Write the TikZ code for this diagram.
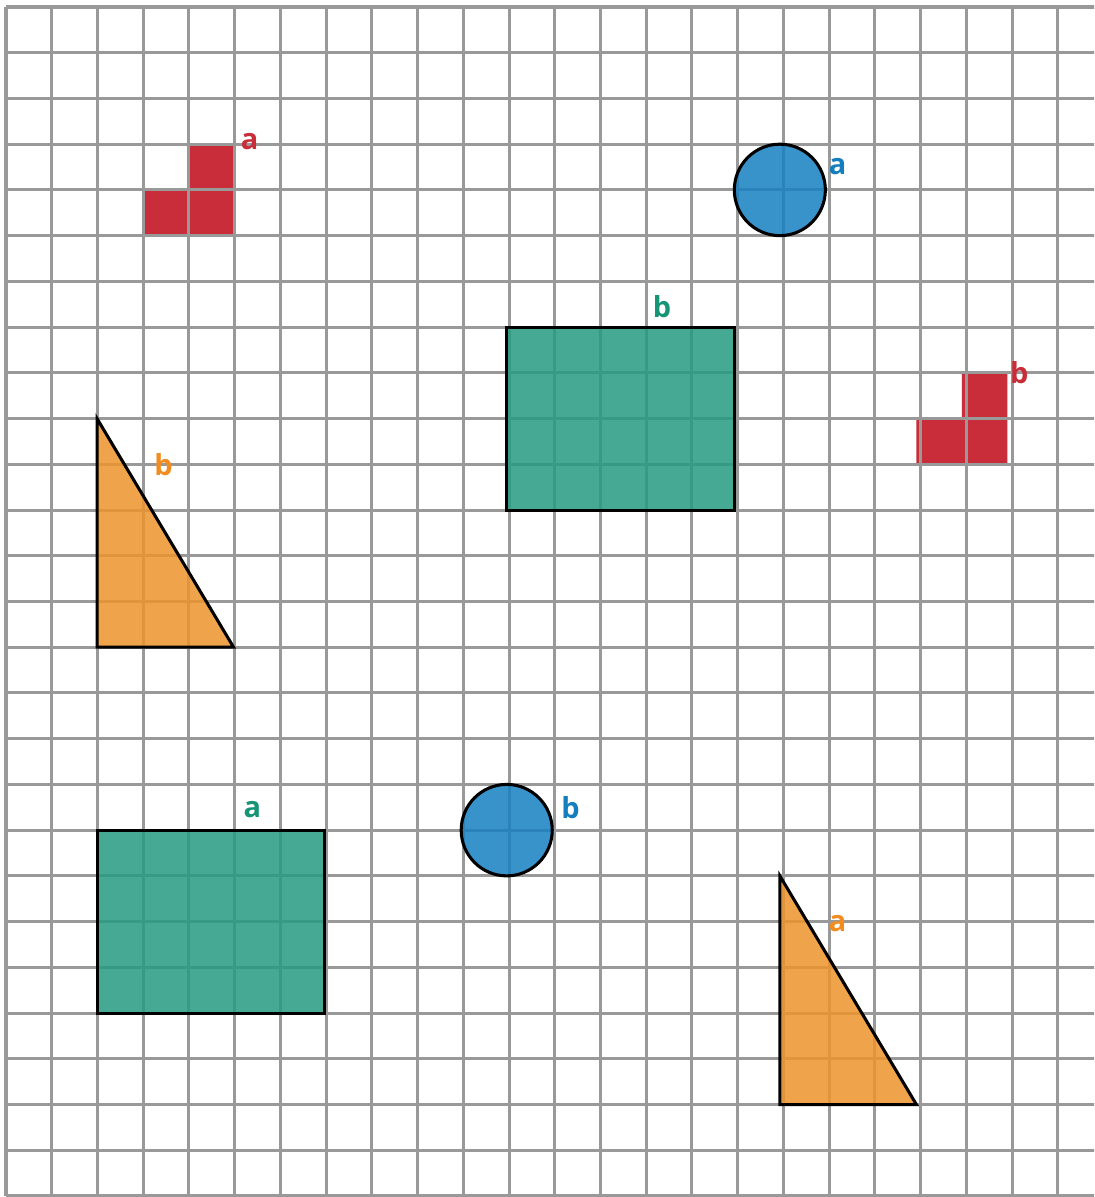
\documentclass[tikz,border=0pt]{standalone}
\usepackage{fontspec}
\setmainfont{Open Sans}
\definecolor{gridgray}{RGB}{153,153,153}
\definecolor{figred}{RGB}{201,45,57}
\definecolor{figgreen}{RGB}{37,155,129}
\definecolor{figblue}{RGB}{23,129,194}
\definecolor{figorange}{RGB}{237,148,43}
\definecolor{labred}{RGB}{200,45,57}
\definecolor{labgreen}{RGB}{22,148,118}
\definecolor{labblue}{RGB}{21,126,190}
\definecolor{laborange}{RGB}{242,140,30}

\begin{document}
\begin{tikzpicture}[
  x=0.9954cm, y=1cm,
  gridline/.style={draw=gridgray, line width=1.9pt},
  redsq/.style={fill=figred},
  fig/.style={draw=black, line width=1.9pt, fill opacity=0.85, line join=miter},
  lab/.style={font=\fontsize{18}{22}\selectfont\bfseries, inner sep=0pt}
]
  \useasboundingbox (-0.1316,-0.022) rectangle (23.902,26.153);
  \clip (-0.1316,-0.022) rectangle (23.902,26.153);
  \fill[white] (-0.1316,-0.022) rectangle (23.902,26.153);

  \fill[redsq] (4,22) rectangle (5,23) (3,21) rectangle (4,22) (4,21) rectangle (5,22);
  \fill[redsq] (21,17) rectangle (22,18) (20,16) rectangle (21,17) (21,16) rectangle (22,17);

  \draw[gridline] (0,0) grid (24,26);

  \draw[fig, fill=figblue] (17,22) circle (1);
  \draw[fig, fill=figblue] (11,8) circle (1);
  \draw[fig, fill=figgreen] (11,15) rectangle (16,19);
  \draw[fig, fill=figgreen] (2,4) rectangle (7,8);
  \draw[fig, fill=figorange] (2,17) -- (2,12) -- (5,12) -- cycle;
  \draw[fig, fill=figorange] (17,7) -- (17,2) -- (20,2) -- cycle;

  \node[lab, text=labred] (redA) at (5.35,23.06) {a};
  \node[lab, text=labred] (redB) at (22.26,18.0) {b};
  \node[lab, text=labblue] (blueA) at (18.27,22.5) {a};
  \node[lab, text=labblue] (blueB) at (12.4,8.5) {b};
  \node[lab, text=labgreen] (greenA) at (5.41,8.45) {a};
  \node[lab, text=labgreen] (greenB) at (14.41,19.45) {b};
  \node[lab, text=laborange] (orangeA) at (18.27,5.96) {a};
  \node[lab, text=laborange] (orangeB) at (3.46,15.99) {b};
\end{tikzpicture}
\end{document}
